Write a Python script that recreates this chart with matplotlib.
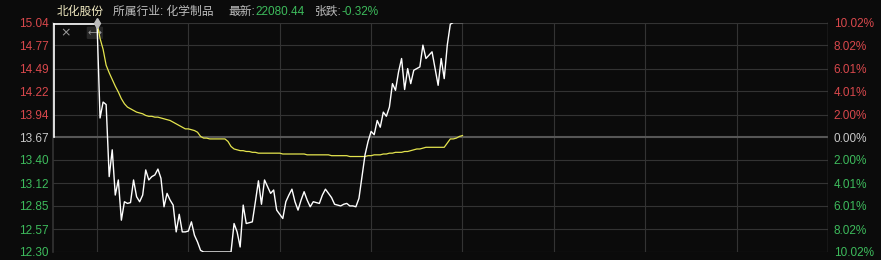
import numpy as np
import matplotlib
matplotlib.use("Agg")
import matplotlib.pyplot as plt

# ---------------- data ----------------
stock_name = "北化股份"
industry = "所属行业: 化学制品"
latest_label = "最新:"
latest_value = "22080.44"
change_label = "张跌:"
change_value = "-0.32%"

prev_close = 13.67
price_ticks = [12.30, 12.57, 12.85, 13.12, 13.40, 13.67, 13.94, 14.22, 14.49, 14.77, 15.04]
price_labels = ["12.30", "12.57", "12.85", "13.12", "13.40", "13.67",
                "13.94", "14.22", "14.49", "14.77", "15.04"]
pct_labels = ["10.02%", "8.02%", "6.01%", "4.01%", "2.00%", "0.00%",
              "2.00%", "4.01%", "6.01%", "8.02%", "10.02%"]
time_grid = [0, 30, 60, 90, 120, 150, 180, 210, 240]

# minute prices 9:30 - 11:30
price = [
    15.04, 13.90, 14.09, 14.06, 13.20, 13.52, 12.98, 13.16, 12.68, 12.90,
    12.88, 12.89, 13.16, 12.96, 12.90, 12.98, 13.28, 13.16, 13.20, 13.22,
    13.29, 13.18, 12.84, 13.00, 12.92, 12.86, 12.54, 12.75, 12.54, 12.54,
    12.55, 12.66, 12.50, 12.42, 12.32, 12.30, 12.30, 12.30, 12.30, 12.30,
    12.30, 12.30, 12.30, 12.30, 12.30, 12.64, 12.54, 12.36, 12.86, 12.64,
    12.65, 12.66, 12.90, 13.15, 12.87, 13.16, 13.08, 13.00, 13.04, 12.80,
    12.75, 12.70, 12.90, 12.98, 13.05, 12.90, 12.80, 12.92, 13.02, 12.92,
    12.84, 12.90, 12.89, 12.88, 12.98, 13.05, 13.00, 12.95, 12.87, 12.86,
    12.85, 12.87, 12.88, 12.85, 12.85, 12.84, 12.94, 13.20, 13.46, 13.62,
    13.74, 13.70, 13.87, 13.79, 13.97, 13.92, 14.03, 14.31, 14.23, 14.45,
    14.61, 14.24, 14.49, 14.31, 14.47, 14.49, 14.51, 14.77, 14.61, 14.65,
    14.69, 14.49, 14.29, 14.61, 14.37, 14.77, 15.02, 15.04, 15.04, 15.04,
    15.04,
]

# minute average price
avg = [
    15.04, 14.85, 14.72, 14.53, 14.44, 14.36, 14.28, 14.21, 14.13, 14.07,
    14.03, 14.01, 13.99, 13.97, 13.96, 13.95, 13.93, 13.92, 13.92, 13.91,
    13.91, 13.90, 13.89, 13.88, 13.87, 13.85, 13.83, 13.81, 13.79, 13.77,
    13.77, 13.76, 13.75, 13.73, 13.68, 13.66, 13.66, 13.65, 13.65, 13.65,
    13.65, 13.65, 13.65, 13.62, 13.56, 13.53, 13.52, 13.51, 13.51, 13.50,
    13.50, 13.49, 13.49, 13.48, 13.48, 13.48, 13.48, 13.48, 13.48, 13.48,
    13.48, 13.47, 13.47, 13.47, 13.47, 13.47, 13.47, 13.47, 13.47, 13.46,
    13.46, 13.46, 13.46, 13.46, 13.46, 13.46, 13.46, 13.45, 13.45, 13.45,
    13.45, 13.45, 13.45, 13.44, 13.44, 13.44, 13.44, 13.44, 13.44, 13.45,
    13.45, 13.46, 13.46, 13.46, 13.47, 13.47, 13.48, 13.48, 13.49, 13.49,
    13.49, 13.50, 13.50, 13.51, 13.52, 13.53, 13.53, 13.54, 13.55, 13.55,
    13.55, 13.55, 13.55, 13.55, 13.55, 13.60, 13.65, 13.65, 13.66, 13.68,
    13.69,
]
minutes = list(range(len(price)))

# ---------------- style ----------------
BG = "#0b0b0b"
GRID = "#333333"
RED = "#d9484c"
GREEN = "#3dbb5c"
NEUTRAL = "#c8c8c8"
FONT = ["Liberation Sans", "Noto Sans CJK SC", "DejaVu Sans"]
plt.rcParams["font.family"] = FONT

W, H = 881, 260
fig = plt.figure(figsize=(W / 100, H / 100), dpi=100, facecolor=BG)
x0, x1 = 53, 828
y0, y1 = 22.5, 252
ax = fig.add_axes([x0 / W, 1 - y1 / H, (x1 - x0) / W, (y1 - y0) / H])
ax.set_facecolor(BG)

px_per_min = (x1 - 97) / 240.0
xmin = -(97 - x0) / px_per_min
ax.set_xlim(xmin, 240)
ax.set_ylim(price_ticks[0], price_ticks[-1])

for s in ax.spines.values():
    s.set_visible(False)

# grid
for t in time_grid:
    ax.axvline(t, color=GRID, lw=0.8, zorder=1)
for p in price_ticks:
    if p == prev_close:
        ax.axhline(p, color="#565656", lw=1.5, zorder=1)
    else:
        ax.axhline(p, color=GRID, lw=0.8, zorder=1)
ax.axvline(xmin, color=GRID, lw=1.2, zorder=1, clip_on=False)

# white frame part at top-left
top_y = price_ticks[-1] - 0.02
ax.plot([xmin + 0.25, xmin + 0.25], [prev_close, top_y], color="white",
        lw=1.2, zorder=3, clip_on=False)
ax.plot([xmin + 0.25, 0], [top_y, top_y], color="white",
        lw=1.2, zorder=3, clip_on=False)

# lines
ax.plot(minutes, avg, color="#e4e44e", lw=0.9, zorder=4)
ax.plot(minutes, price, color="white", lw=1.0, zorder=5)
ax.plot([0], [price_ticks[-1]], marker="d", color="#bbbbbb", ms=5, zorder=6, clip_on=False)

# icons
ax.text(0.009, 0.955, "×", transform=ax.transAxes, color="#9a9a9a", fontsize=9,
        ha="left", va="center", family=["DejaVu Sans"])
ax.text(0.045, 0.955, "⟷", transform=ax.transAxes, color="#9a9a9a", fontsize=7,
        ha="left", va="center", family=["DejaVu Sans"],
        bbox=dict(boxstyle="round,pad=0.12", fc="#262626", ec="none"))

# y tick labels
def col(p):
    if abs(p - prev_close) < 1e-6:
        return NEUTRAL
    return RED if p > prev_close else GREEN

ax.set_xticks([])
ax.set_yticks(price_ticks)
ax.set_yticklabels(price_labels, fontsize=8.5)
ax.tick_params(axis="y", length=0, pad=3)
for lab, p in zip(ax.get_yticklabels(), price_ticks):
    lab.set_color(col(p))

ax2 = ax.twinx()
ax2.set_ylim(ax.get_ylim())
for s in ax2.spines.values():
    s.set_visible(False)
ax2.set_yticks(price_ticks)
ax2.set_yticklabels(pct_labels, fontsize=8.5)
ax2.tick_params(axis="y", length=0, pad=4)
for lab, p in zip(ax2.get_yticklabels(), price_ticks):
    lab.set_color(col(p))
ax2.axvline(240, color="#444444", lw=1.0)

# header
header = [
    (stock_name, "#efe8c0", 57),
    (industry, "#bdbdbd", 113),
    (latest_label, "#bdbdbd", 228),
    (latest_value, GREEN, 255),
    (change_label, "#bdbdbd", 315),
    (change_value, GREEN, 342),
]
for txt, c, xp in header:
    fig.text(xp / W, 1 - 12 / H, txt, color=c, fontsize=8.5, ha="left", va="center")

fig.savefig("out.png", dpi=100, facecolor=BG)
